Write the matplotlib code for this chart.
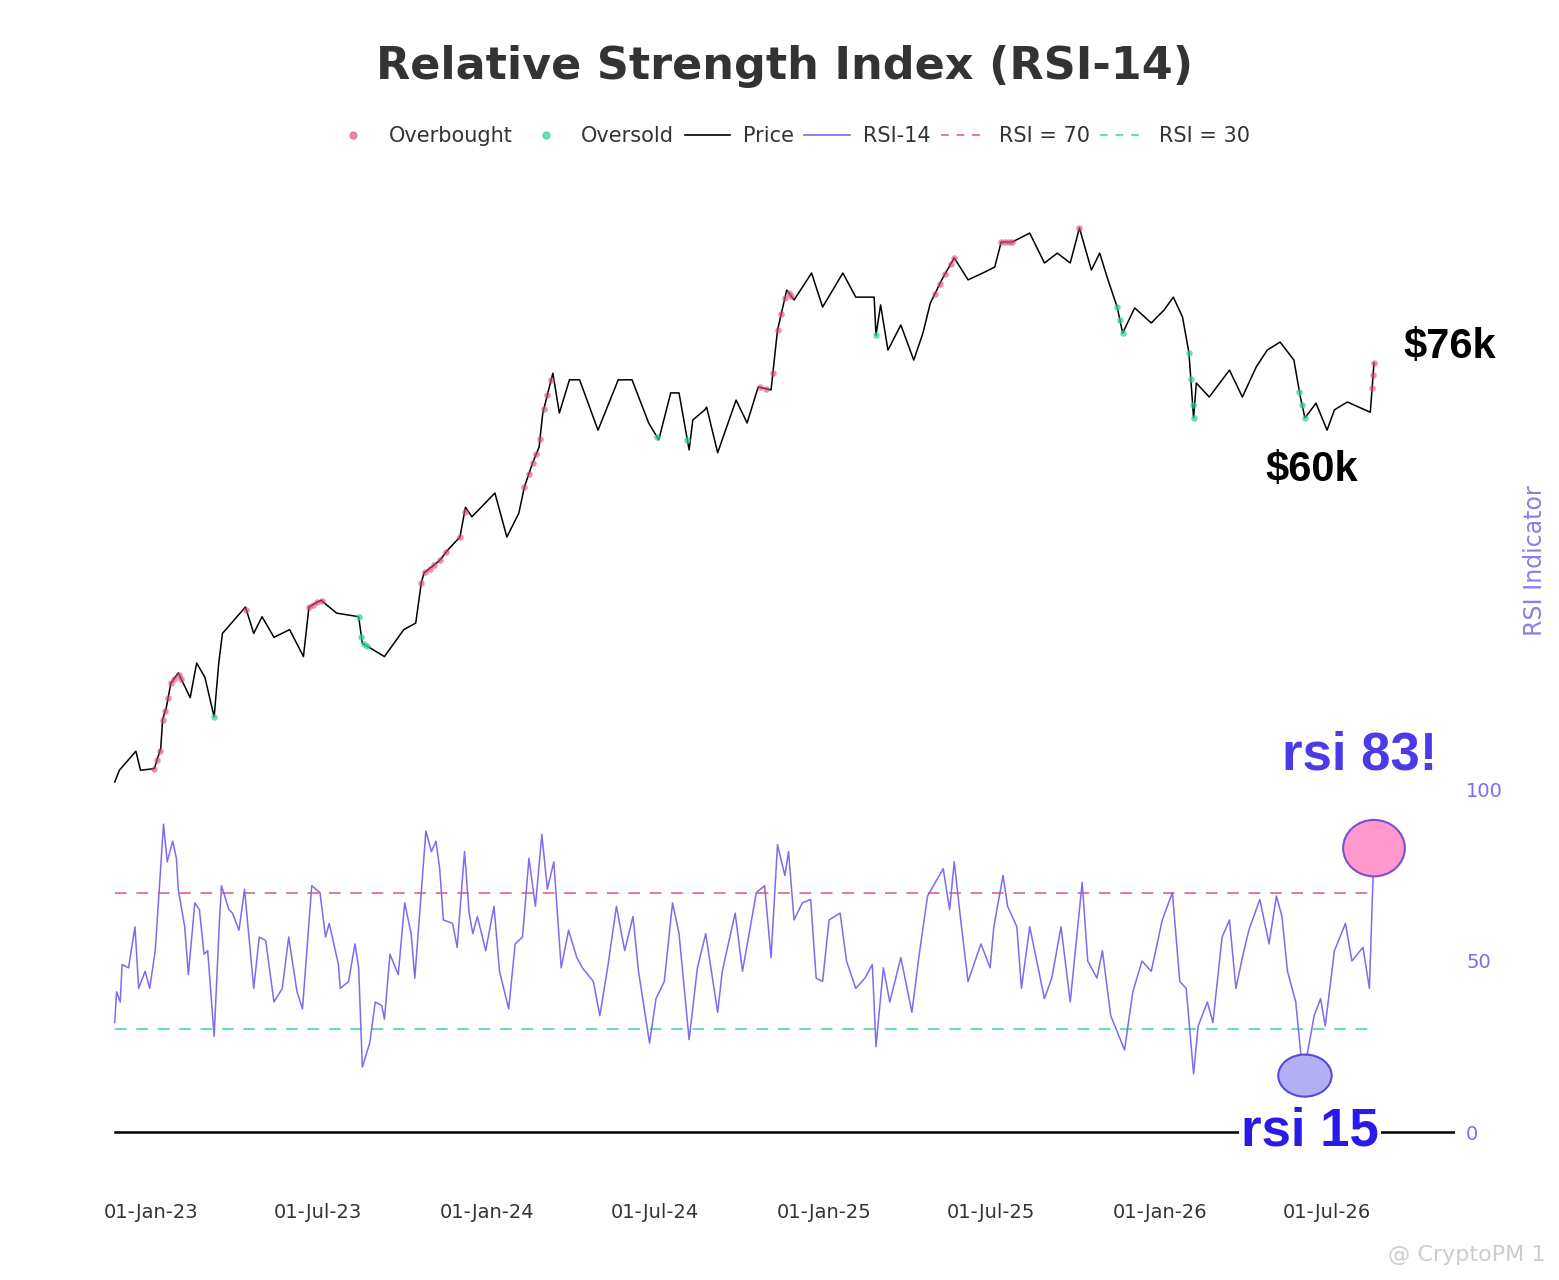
import matplotlib
matplotlib.use("Agg")
import matplotlib.pyplot as plt
import matplotlib.dates as mdates
from matplotlib.lines import Line2D
from matplotlib.patches import Ellipse
import numpy as np
import pandas as pd

BASE = pd.Timestamp("2023-01-01")

# price: day offset from 01-Jan-23, price in $k
price_days = [-40, -35, -17, -12, 3, 10, 12, 16, 21, 29, 42, 49, 58, 68, 73, 77, 102, 111, 120, 133,
              150, 165, 171, 184, 201, 225, 229, 253, 274, 287, 293, 296, 313, 322, 335, 341, 348, 373,
              386, 399, 405, 414, 421, 425, 436, 443, 454, 465, 485, 507, 522, 540, 551, 564, 573, 584,
              588, 601, 603, 615, 635, 647, 659, 673, 680, 690, 698, 717, 729, 751, 765, 785, 787, 792,
              800, 814, 828, 838, 846, 860, 872, 887, 903, 916, 923, 935, 954, 970, 984, 998, 1008, 1021,
              1030, 1039, 1049, 1055, 1068, 1086, 1100, 1110, 1120, 1127, 1132, 1135, 1149, 1171, 1185,
              1200, 1212, 1226, 1241, 1248, 1253, 1265, 1277, 1285, 1299, 1324, 1328]
price_k = [14.7, 15.4, 16.6, 15.4, 15.5, 16.8, 18.8, 19.7, 21.7, 22.6, 20.5, 23.5, 22.2, 19.0, 23.5, 26.4,
           29.3, 26.4, 28.2, 26.0, 26.8, 24.1, 29.3, 30.1, 28.6, 28.2, 25.4, 24.1, 26.8, 27.5, 32.2, 33.5,
           35.2, 36.7, 38.6, 43.4, 41.8, 45.9, 38.6, 42.4, 47.0, 51.7, 55.0, 62.9, 73.6, 62.9, 71.7, 71.7,
           58.8, 71.7, 71.7, 60.5, 56.6, 68.1, 68.1, 54.4, 61.2, 63.7, 64.4, 53.8, 66.2, 60.5, 69.7, 68.9,
           87.2, 102.1, 98.2, 109.2, 95.5, 109.2, 99.3, 99.3, 85.5, 96.3, 80.6, 89.0, 77.5, 86.2, 97.0,
           107.5, 115.9, 106.3, 109.2, 111.8, 123.4, 123.4, 127.8, 113.6, 118.1, 113.6, 130.4, 110.5,
           118.1, 106.3, 95.5, 86.2, 95.2, 89.7, 94.4, 99.3, 91.8, 79.7, 61.7, 70.8, 67.0, 74.5, 67.0,
           75.4, 80.6, 83.2, 77.5, 67.0, 61.7, 65.4, 58.8, 63.7, 65.7, 63.1, 76.6]

rsi_days = [-40, -38, -34, -32, -25, -18, -14, -7, -2, 4,
            13, 17, 23, 27, 29, 36, 40, 47, 52, 57,
            61, 68, 74, 76, 84, 88, 95, 101, 111, 117,
            124, 133, 142, 149, 158, 164, 174, 183, 189, 193,
            203, 205, 214, 221, 225, 229, 237, 243, 250, 253,
            259, 268, 275, 282, 286, 298, 304, 309, 313, 317,
            327, 332, 340, 345, 349, 354, 363, 372, 378, 388,
            395, 403, 410, 417, 424, 430, 437, 445, 453, 462,
            468, 480, 487, 496, 505, 514, 523, 529, 541, 548,
            557, 566, 573, 584, 593, 602, 615, 620, 634, 642,
            657, 666, 673, 680, 688, 692, 698, 707, 716, 722,
            729, 736, 748, 755, 765, 775, 783, 787, 795, 802,
            814, 826, 834, 843, 860, 867, 872, 879, 887, 901,
            911, 915, 925, 930, 940, 945, 954, 970, 978, 988,
            998, 1011, 1017, 1027, 1033, 1042, 1057, 1066, 1076, 1086,
            1098, 1109, 1117, 1124, 1132, 1137, 1147, 1153, 1163, 1171,
            1178, 1185, 1192, 1204, 1214, 1222, 1228, 1234, 1243, 1251,
            1263, 1270, 1275, 1285, 1297, 1304, 1316, 1323, 1328]
rsi_vals = [32, 41, 38, 49, 48, 60, 42, 47, 42, 53,
            90, 79, 85, 80, 71, 60, 46, 67, 65, 52,
            53, 28, 63, 72, 65, 64, 59, 71, 42, 57,
            56, 38, 42, 57, 41, 36, 72, 70, 57, 61,
            49, 42, 44, 55, 48, 19, 26, 38, 37, 33,
            52, 46, 67, 58, 45, 88, 82, 85, 77, 62,
            61, 54, 82, 64, 58, 63, 53, 66, 47, 36,
            55, 57, 80, 66, 87, 71, 79, 48, 59, 51,
            48, 44, 34, 49, 66, 53, 63, 47, 26, 39,
            44, 67, 58, 27, 48, 58, 35, 47, 64, 47,
            70, 72, 51, 84, 75, 82, 62, 67, 68, 45,
            44, 62, 64, 50, 42, 45, 49, 25, 48, 38,
            51, 35, 52, 69, 77, 65, 79, 62, 44, 55,
            48, 60, 75, 66, 60, 42, 60, 39, 45, 60,
            38, 73, 50, 45, 53, 34, 24, 41, 50, 47,
            62, 70, 44, 42, 17, 31, 38, 32, 57, 62,
            42, 51, 59, 68, 55, 69, 63, 47, 38, 16,
            34, 39, 31, 53, 61, 50, 54, 42, 83]

overbought_days = [3, 6, 9, 12, 15, 18, 21, 24, 30, 32, 103, 171, 175, 180, 185, 293, 297, 302, 307, 313,
                   320, 335, 340, 405, 410, 414, 418, 422, 426, 430, 434, 661, 668, 675, 680, 684, 688,
                   692, 695, 851, 856, 862, 868, 872, 923, 927, 931, 935, 1008, 1326, 1327, 1328]
oversold_days = [68, 225, 228, 231, 234, 549, 582, 787, 1049, 1052, 1055, 1127, 1129, 1131, 1132,
                 1247, 1250, 1253]

PRICE_C = "black"
RSI_C = "#7b6cf0"
OB_C = "#e0457b"
OS_C = "#2fcf9a"
ANNOT_FONT = ["Liberation Sans", "DejaVu Sans"]


def to_dates(days):
    return BASE + pd.to_timedelta(days, unit="D")


W, H = 1559, 1280
fig = plt.figure(figsize=(W / 100, H / 100), dpi=100)
L, R, B, T = 100, 1455, 1150, 200
ax = fig.add_axes([L / W, 1 - B / H, (R - L) / W, (B - T) / H])
ax2 = ax.twinx()

# price on log scale (hidden axis)
ax.set_yscale("log")
ax.plot(to_dates(price_days), price_k, color=PRICE_C, lw=1.1, zorder=3)
ob_p = np.exp(np.interp(overbought_days, price_days, np.log(price_k)))
os_p = np.exp(np.interp(oversold_days, price_days, np.log(price_k)))
ax.scatter(to_dates(overbought_days), ob_p, s=22, color=OB_C, alpha=0.6, lw=0, zorder=4)
ax.scatter(to_dates(oversold_days), os_p, s=22, color=OS_C, alpha=0.7, lw=0, zorder=4)
ax.set_ylim(3.45, 145.6)
ax.yaxis.set_major_locator(matplotlib.ticker.NullLocator())
ax.yaxis.set_minor_locator(matplotlib.ticker.NullLocator())

# RSI
ax2.plot(to_dates(rsi_days), rsi_vals, color=RSI_C, lw=1.1, zorder=3)
xs = to_dates([-40, 1328])
ax2.plot(xs, [70, 70], color="#e8798f", lw=1.4, ls=(0, (6, 5)))
ax2.plot(xs, [30, 30], color="#66d9b8", lw=1.4, ls=(0, (6, 5)))
ax2.plot(to_dates([-40, 1416]), [0, 0], color="black", lw=1.8)
ax2.set_ylim(-5.26, 272.5)
ax2.set_yticks([0, 50, 100])
ax2.tick_params(axis="y", colors=RSI_C, labelsize=14, length=0, pad=8)
ax2.set_ylabel("RSI Indicator", color="#8b7fe8", fontsize=17)
ax2.yaxis.set_label_coords(1.05, 0.62)

ax.set_xlim(to_dates([-56])[0], to_dates([1416])[0])
ax.xaxis.set_major_locator(mdates.MonthLocator(bymonth=(1, 7), bymonthday=1))
ax.xaxis.set_major_formatter(mdates.DateFormatter("%d-%b-%y"))
ax.tick_params(axis="x", labelsize=14, length=0, pad=38, colors="#333333")
for a in (ax, ax2):
    for s in a.spines.values():
        s.set_visible(False)

# annotations
d = to_dates([1328, 1253])
ax2.add_patch(Ellipse((mdates.date2num(d[0]), 83), 67, 16.5, facecolor="#ff99cc",
                      edgecolor="#7b4fd0", lw=1.5, zorder=5))
ax2.add_patch(Ellipse((mdates.date2num(d[1]), 16.5), 58, 12.3, facecolor="#b3b0f5",
                      edgecolor="#5a48d8", lw=1.5, zorder=5))
fig.text(1360 / W, 1 - 755 / H, "rsi 83!", color="#4a3ae8", fontsize=38, weight="bold",
         ha="center", va="center", family=ANNOT_FONT)
fig.text(1310 / W, 1 - 1132 / H, "rsi 15", color="#2a1ae8", fontsize=38, weight="bold",
         ha="center", va="center", family=ANNOT_FONT,
         bbox=dict(facecolor="white", edgecolor="none", pad=1))
fig.text(1450 / W, 1 - 347 / H, "$76k", color="black", fontsize=30, weight="bold",
         ha="center", va="center", family=ANNOT_FONT)
fig.text(1312 / W, 1 - 470 / H, "$60k", color="black", fontsize=30, weight="bold",
         ha="center", va="center", family=ANNOT_FONT)

fig.text(785 / W, 1 - 67 / H, "Relative Strength Index (RSI-14)", fontsize=32, weight="bold",
         color="#333333", ha="center", va="center")

handles = [
    Line2D([], [], marker="o", ls="", color=OB_C, alpha=0.6, markersize=5),
    Line2D([], [], marker="o", ls="", color=OS_C, alpha=0.7, markersize=5),
    Line2D([], [], color=PRICE_C, lw=1.2),
    Line2D([], [], color=RSI_C, lw=1.2),
    Line2D([], [], color="#e8798f", lw=1.4, ls=(0, (4, 4))),
    Line2D([], [], color="#66d9b8", lw=1.4, ls=(0, (4, 4))),
]
labels = ["Overbought", "Oversold", "Price", "RSI-14", "RSI = 70", "RSI = 30"]
fig.legend(handles, labels, loc="center", bbox_to_anchor=(790 / W, 1 - 136 / H), ncol=6,
           frameon=False, fontsize=15, handlelength=2.2, columnspacing=0.5, handletextpad=0.6,
           labelcolor="#333333")

fig.text(1545 / W, 1 - 1255 / H, "@ CryptoPM 1", color="#cccccc", fontsize=16, ha="right",
         va="center")

fig.savefig("out.png", dpi=100, facecolor="white")
